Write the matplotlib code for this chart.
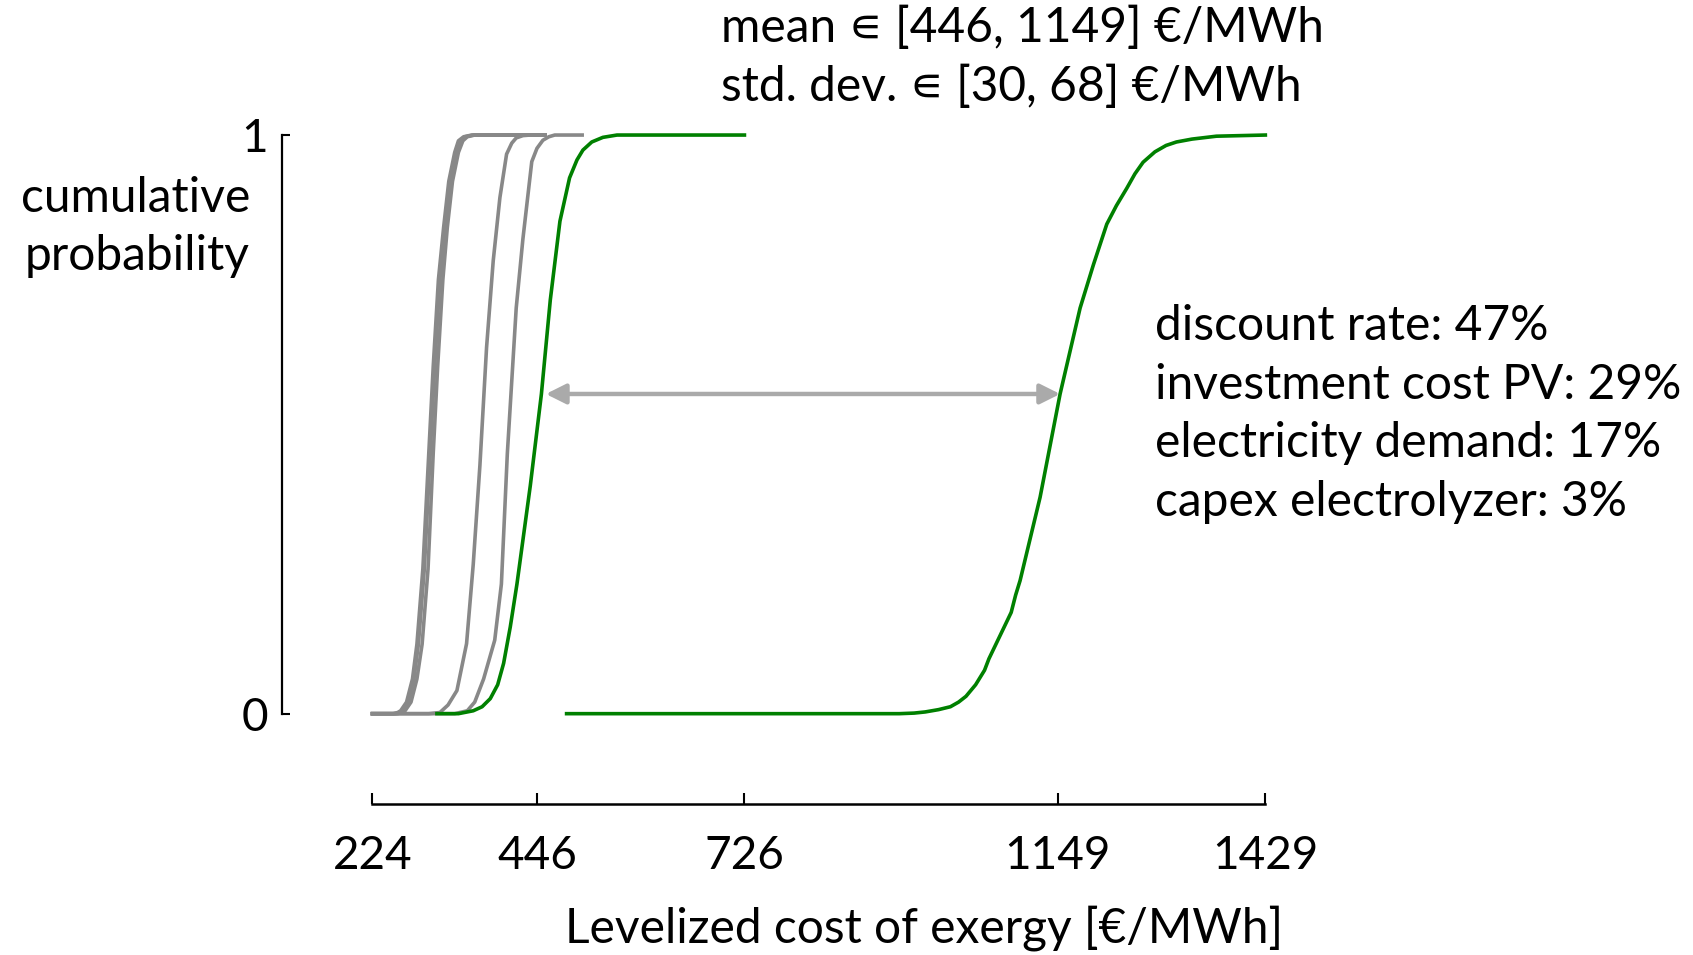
import matplotlib
matplotlib.use("Agg")
import matplotlib.pyplot as plt

plt.rcParams['font.family'] = ['Lato', 'DejaVu Sans']

# cumulative probability levels and the costs (EUR/MWh)
gray_1_x = [224, 252, 258, 262, 270, 278, 284, 292, 300, 306, 313, 320, 327, 335, 340, 347, 358, 457]
gray_1_p = [0, 0, 0.002, 0.005, 0.02, 0.06, 0.12, 0.25, 0.45, 0.60, 0.75, 0.84, 0.92, 0.97, 0.99, 0.997, 1, 1]
gray_2_x = [224, 255, 261, 265, 272, 280, 286, 294, 302, 308, 315, 322, 329, 337, 342, 349, 360, 457]
gray_2_p = [0, 0, 0.002, 0.005, 0.02, 0.06, 0.12, 0.25, 0.45, 0.60, 0.75, 0.84, 0.92, 0.97, 0.99, 0.997, 1, 1]
gray_3_x = [224, 258, 264, 268, 276, 284, 291, 299, 306, 312, 319, 325, 332, 340, 346, 352, 362, 457]
gray_3_p = [0, 0, 0.002, 0.005, 0.02, 0.06, 0.12, 0.25, 0.45, 0.60, 0.75, 0.84, 0.92, 0.97, 0.99, 0.997, 1, 1]
gray_4_x = [224, 300, 315, 326, 338, 351, 360, 369, 378, 387, 396, 405, 412, 418, 427, 437, 457]
gray_4_p = [0, 0, 0.002, 0.015, 0.04, 0.121, 0.258, 0.429, 0.633, 0.783, 0.892, 0.967, 0.986, 0.995, 0.999, 1, 1]
gray_5_x = [224, 335, 352, 362, 374, 389, 398, 406, 418, 427, 439, 446, 454, 462, 470, 507]
gray_5_p = [0, 0, 0.005, 0.02, 0.06, 0.127, 0.224, 0.449, 0.701, 0.82, 0.954, 0.977, 0.991, 0.997, 1, 1]

green_1_x = [311, 340, 360, 372, 383, 393, 401, 410, 419, 437, 452, 464, 477, 490, 500, 508,
             520, 535, 554, 726]
green_1_p = [0, 0, 0.005, 0.012, 0.026, 0.05, 0.087, 0.15, 0.224, 0.394, 0.5525, 0.715, 0.851, 0.926,
             0.957, 0.974, 0.988, 0.996, 1, 1]
green_2_x = [486, 935, 955, 970, 988, 1004, 1015, 1025, 1038, 1050, 1053, 1056, 1071, 1086, 1089, 1092,
             1098, 1125, 1152, 1179, 1197, 1215, 1228, 1242, 1253, 1264, 1280, 1295, 1309, 1330,
             1363, 1429]
green_2_p = [0, 0, 0.001, 0.003, 0.007, 0.012, 0.02, 0.030, 0.05, 0.075, 0.085, 0.095, 0.135, 0.175,
             0.19, 0.205, 0.23, 0.374, 0.5525, 0.701, 0.776, 0.846, 0.878, 0.908, 0.933, 0.953, 0.971,
             0.982, 0.988, 0.993, 0.998, 1]

xticks = [224, 446, 726, 1149, 1429]
arrow_p = 0.5525
arrow_from, arrow_to = 458, 1152

top_text = "mean \u220a [446, 1149] \u20ac/MWh\nstd. dev. \u220a [30, 68] \u20ac/MWh"
sens_text = ("discount rate: 47%\ninvestment cost PV: 29%\n"
             "electricity demand: 17%\ncapex electrolyzer: 3%")

fs = 34.5
fig = plt.figure(figsize=(16.93, 9.55), dpi=100)
ax = fig.add_axes([0.2200, 0.2527, 0.5274, 0.6059])

for x, p in [(gray_1_x, gray_1_p), (gray_2_x, gray_2_p), (gray_3_x, gray_3_p),
             (gray_4_x, gray_4_p), (gray_5_x, gray_5_p)]:
    ax.plot(x, p, color='#888888', lw=2.6, clip_on=False, solid_joinstyle='round')
ax.plot(green_1_x, green_1_p, color='green', lw=2.6, clip_on=False, solid_joinstyle='round')
ax.plot(green_2_x, green_2_p, color='green', lw=2.6, clip_on=False, solid_joinstyle='round')

ax.annotate('', xy=(arrow_from, arrow_p), xytext=(arrow_to, arrow_p),
            arrowprops=dict(arrowstyle='<|-|>', color='#aaaaaa', lw=3.2,
                            mutation_scale=30, shrinkA=0, shrinkB=0))

ax.set_xlim(224, 1429)
ax.set_ylim(0, 1)
for s in ['top', 'right']:
    ax.spines[s].set_visible(False)
ax.spines['left'].set_position(('outward', 65))
ax.spines['bottom'].set_position(('outward', 65))
ax.spines['left'].set_linewidth(1.6)
ax.spines['bottom'].set_linewidth(1.8)
ax.spines['bottom'].set_bounds(224, 1429)
ax.spines['left'].set_bounds(0, 1)

ax.set_xticks(xticks)
ax.set_xticklabels([str(t) for t in xticks])
ax.set_yticks([0, 1])
ax.set_yticklabels(['0', '1'])
ax.tick_params(axis='x', direction='in', length=8, width=1.5, pad=22, labelsize=33)
ax.tick_params(axis='y', direction='in', length=6, width=1.5, pad=10, labelsize=33)

fig.text(924 / 1693, 1 - 928 / 955, 'Levelized cost of exergy [\u20ac/MWh]',
         ha='center', va='center', fontsize=fs)
fig.text(250 / 1693, 1 - 227 / 955, 'cumulative\nprobability', ha='right', va='center',
         fontsize=fs, multialignment='right', linespacing=1.4)
fig.text(721 / 1693, 1 - 57 / 955, top_text, ha='left', va='center', fontsize=fs, linespacing=1.4)
fig.text(1155 / 1693, 1 - 414 / 955, sens_text, ha='left', va='center', fontsize=fs, linespacing=1.4)

fig.savefig('out.png', dpi=100)
